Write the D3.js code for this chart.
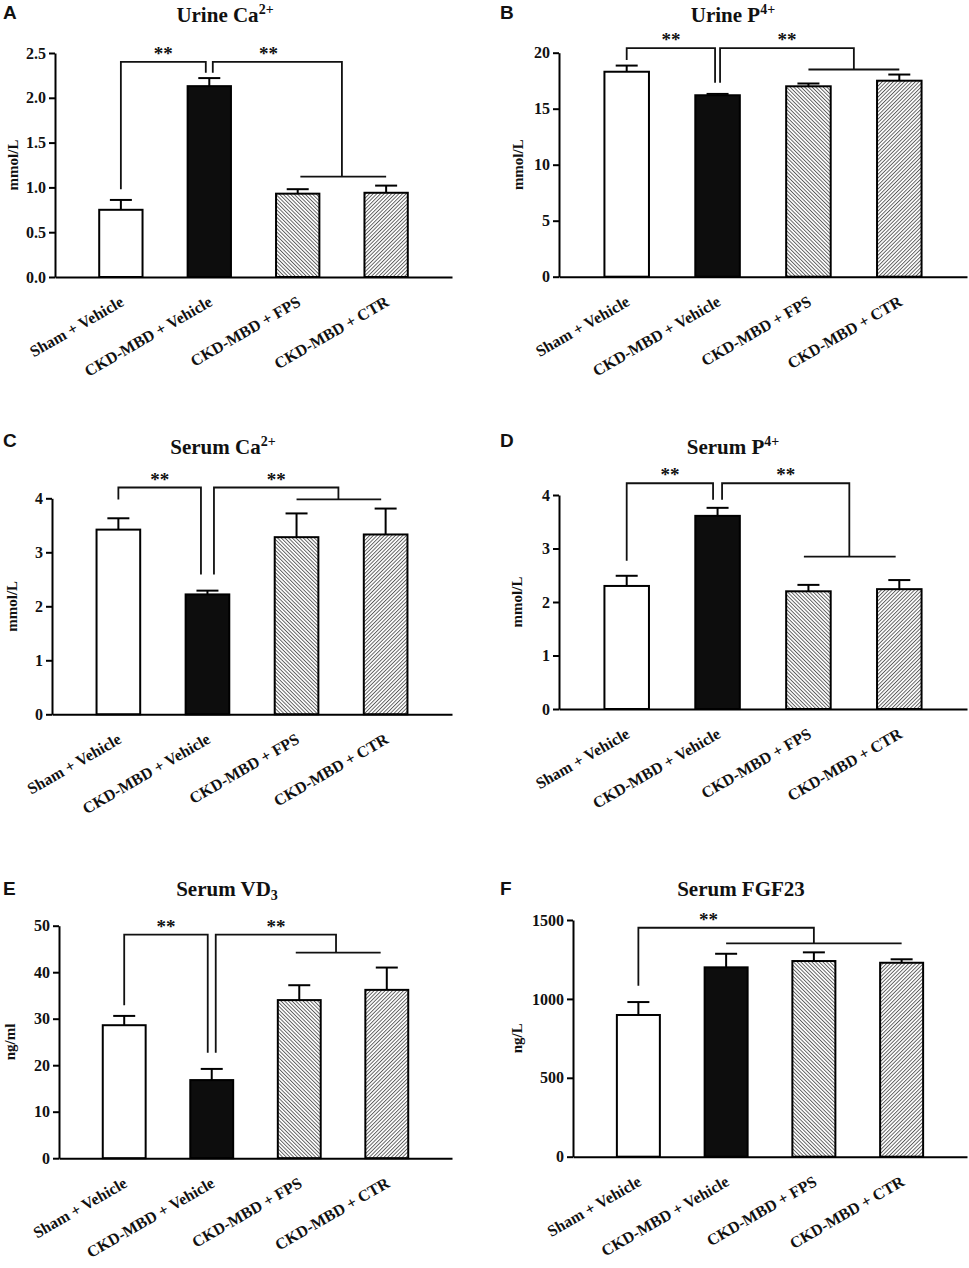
<!DOCTYPE html>
<html>
<head>
<meta charset="utf-8">
<script src="https://cdn.jsdelivr.net/npm/d3@7"></script>
<style>
  body { margin: 0; background: #fff; }
  text { font-family: "Liberation Serif", "Times New Roman", serif; font-weight: bold; fill: #111; }
  .letter { font-family: "Liberation Sans", Arial, sans-serif; }
</style>
</head>
<body>
<script>
// groups on the x axis
const groups = ["Sham + Vehicle", "CKD-MBD + Vehicle", "CKD-MBD + FPS", "CKD-MBD + CTR"];

// means and upper error (SEM)
const urineCaMean = [0.75, 2.13, 0.93, 0.94];
const urineCaSem = [0.11, 0.09, 0.05, 0.08];
const urineCaTicks = [0, 0.5, 1.0, 1.5, 2.0, 2.5];

const urinePMean = [18.3, 16.2, 17.0, 17.5];
const urinePSem = [0.55, 0.12, 0.25, 0.55];
const urinePTicks = [0, 5, 10, 15, 20];

const serumCaMean = [3.42, 2.22, 3.28, 3.33];
const serumCaSem = [0.21, 0.07, 0.44, 0.48];
const serumCaTicks = [0, 1, 2, 3, 4];

const serumPMean = [2.30, 3.61, 2.20, 2.24];
const serumPSem = [0.19, 0.15, 0.12, 0.17];
const serumPTicks = [0, 1, 2, 3, 4];

const serumVDMean = [28.6, 16.8, 34.0, 36.2];
const serumVDSem = [2.0, 2.4, 3.2, 4.8];
const serumVDTicks = [0, 10, 20, 30, 40, 50];

const serumFgfMean = [898, 1200, 1240, 1229];
const serumFgfSem = [82, 86, 55, 22];
const serumFgfTicks = [0, 500, 1000, 1500];

// significance brackets, in group index and data units
const urineCaBrackets = [
  {from: 0, fromBottom: 0.98, to: 1, toBottom: 2.28, top: 2.40, label: "**"},
  {from: 1, fromBottom: 2.28, to: 2.5, toBottom: 1.12, top: 2.40, spanFrom: 2.03, spanTo: 3, label: "**", starAt: 1.67}
];
const urinePBrackets = [
  {from: 0, fromBottom: 19.35, to: 1, toBottom: 17.32, top: 20.4, label: "**"},
  {from: 1, fromBottom: 17.32, to: 2.5, toBottom: 18.5, top: 20.4, spanFrom: 2, spanTo: 3, label: "**"}
];
const serumCaBrackets = [
  {from: 0, fromBottom: 3.98, to: 1, toBottom: 2.59, top: 4.20, label: "**"},
  {from: 1, fromBottom: 2.59, to: 2.47, toBottom: 3.98, top: 4.20, spanFrom: 2, spanTo: 2.95, label: "**"}
];
const serumPBrackets = [
  {from: 0, fromBottom: 2.77, to: 1, toBottom: 3.91, top: 4.22, label: "**"},
  {from: 1, fromBottom: 3.91, to: 2.45, toBottom: 2.85, top: 4.22, spanFrom: 1.95, spanTo: 2.96, label: "**"}
];
const serumVDBrackets = [
  {from: 0, fromBottom: 32.9, to: 1, toBottom: 22.7, top: 48.1, label: "**"},
  {from: 1, fromBottom: 22.7, to: 2.42, toBottom: 44.2, top: 48.1, spanFrom: 1.96, spanTo: 2.93, label: "**"}
];
const serumFgfBrackets = [
  {from: 0, fromBottom: 1084, to: 2, toBottom: 1352, top: 1451, spanFrom: 1, spanTo: 3, label: "**", starAt: 0.8}
];

const W = 969, H = 1268;
const svg = d3.select("body").append("svg").attr("width", W).attr("height", H);

const defs = svg.append("defs");
function hatch(id, angle) {
  const p = defs.append("pattern")
    .attr("id", id)
    .attr("patternUnits", "userSpaceOnUse")
    .attr("width", 2.6).attr("height", 2.6)
    .attr("patternTransform", `rotate(${angle})`);
  p.append("rect").attr("width", 2.6).attr("height", 2.6).attr("fill", "#fff");
  p.append("line").attr("x1", 0.5).attr("x2", 0.5).attr("y1", 0).attr("y2", 2.6)
    .attr("stroke", "#4a4a4a").attr("stroke-width", 0.85);
}
hatch("hatchBack", -45);
hatch("hatchFwd", 45);
const fills = ["#fff", "#0d0d0d", "url(#hatchBack)", "url(#hatchFwd)"];

const panels = [
  {letter: "A", title: [["Urine Ca", 0], ["2+", 1]], unit: "mmol/L", mean: urineCaMean, sem: urineCaSem,
   ticks: urineCaTicks, fmt: d3.format(".1f"), brackets: urineCaBrackets,
   x0: 55, x1: 452, y0: 53, y1: 277, titleX: 225, titleY: 21.5, letterX: 3, letterY: 19, unitX: 13, gap: 7},
  {letter: "B", title: [["Urine P", 0], ["4+", 1]], unit: "mmol/L", mean: urinePMean, sem: urinePSem,
   ticks: urinePTicks, fmt: d3.format("d"), brackets: urinePBrackets,
   x0: 559, x1: 967, y0: 52.7, y1: 276.7, titleX: 733, titleY: 21.5, letterX: 500, letterY: 19, unitX: 518, gap: 5},
  {letter: "C", title: [["Serum Ca", 0], ["2+", 1]], unit: "mmol/L", mean: serumCaMean, sem: serumCaSem,
   ticks: serumCaTicks, fmt: d3.format("d"), brackets: serumCaBrackets,
   x0: 52, x1: 452, y0: 498.3, y1: 714.3, titleX: 223, titleY: 454, letterX: 3, letterY: 447, unitX: 12, gap: 13},
  {letter: "D", title: [["Serum P", 0], ["4+", 1]], unit: "mmol/L", mean: serumPMean, sem: serumPSem,
   ticks: serumPTicks, fmt: d3.format("d"), brackets: serumPBrackets,
   x0: 559, x1: 967, y0: 495, y1: 709, titleX: 733, titleY: 453.5, letterX: 500, letterY: 447, unitX: 517, gap: 9},
  {letter: "E", title: [["Serum VD", 0], ["3", -1]], unit: "ng/ml", mean: serumVDMean, sem: serumVDSem,
   ticks: serumVDTicks, fmt: d3.format("d"), brackets: serumVDBrackets,
   x0: 59, x1: 452, y0: 925.7, y1: 1158.2, titleX: 227, titleY: 895.5, letterX: 3, letterY: 895, unitX: 10, gap: 8},
  {letter: "F", title: [["Serum FGF23", 0]], unit: "ng/L", mean: serumFgfMean, sem: serumFgfSem,
   ticks: serumFgfTicks, fmt: d3.format("d"), brackets: serumFgfBrackets,
   x0: 573, x1: 967, y0: 920, y1: 1156.7, titleX: 741, titleY: 895.5, letterX: 500, letterY: 895, unitX: 517, gap: 0}
];

panels.forEach(drawPanel);

function drawPanel(p) {
  const g = svg.append("g");
  const ymax = d3.max(p.ticks);

  const x = d3.scaleBand().domain(groups).range([p.x0, p.x1])
    .paddingInner(0.51).paddingOuter(0.5);
  const y = d3.scaleLinear().domain([0, ymax]).range([p.y1, p.y0]);
  const cx = i => x(groups[0]) + x.bandwidth() / 2 + i * x.step();

  // panel letter and title
  g.append("text").attr("class", "letter")
    .attr("x", p.letterX).attr("y", p.letterY)
    .style("font-size", "19px").text(p.letter);

  const t = g.append("text").attr("x", p.titleX).attr("y", p.titleY)
    .attr("text-anchor", "middle").style("font-size", "21px");
  p.title.forEach(([s, pos]) => {
    const ts = t.append("tspan").text(s);
    if (pos === 1) ts.attr("dy", "-0.55em").style("font-size", "14px");
    if (pos === -1) ts.attr("dy", "0.3em").style("font-size", "14px");
  });

  // y unit
  g.append("text")
    .attr("transform", `translate(${p.unitX}, ${(p.y0 + p.y1) / 2}) rotate(-90)`)
    .attr("text-anchor", "middle").attr("dy", "0.35em")
    .style("font-size", "15px").text(p.unit);

  // bars
  g.selectAll(".bar").data(p.mean).enter().append("rect")
    .attr("class", "bar")
    .attr("x", (d, i) => x(groups[i]))
    .attr("width", x.bandwidth())
    .attr("y", d => y(d))
    .attr("height", d => p.y1 - y(d))
    .attr("fill", (d, i) => fills[i])
    .attr("stroke", "#000")
    .attr("stroke-width", 2);

  // error bars (upper only)
  const eb = g.selectAll(".err").data(p.mean).enter().append("g").attr("class", "err")
    .attr("stroke", "#000").attr("stroke-width", 2);
  eb.append("line")
    .attr("x1", (d, i) => cx(i)).attr("x2", (d, i) => cx(i))
    .attr("y1", d => y(d)).attr("y2", (d, i) => y(d + p.sem[i]));
  eb.append("line")
    .attr("x1", (d, i) => cx(i) - 11).attr("x2", (d, i) => cx(i) + 11)
    .attr("y1", (d, i) => y(d + p.sem[i])).attr("y2", (d, i) => y(d + p.sem[i]));

  // axes
  const ay = g.append("g").attr("transform", `translate(${p.x0},0)`)
    .call(d3.axisLeft(y).tickValues(p.ticks).tickFormat(p.fmt)
      .tickSizeInner(6).tickSizeOuter(0).tickPadding(3));
  ay.selectAll("path, line").attr("stroke", "#000").attr("stroke-width", 2);
  ay.selectAll("text").style("font-size", "16px")
    .style("font-family", "'Liberation Serif', serif").style("font-weight", "bold").attr("fill", "#111");

  const ax = g.append("g").attr("transform", `translate(0,${p.y1})`)
    .call(d3.axisBottom(x).tickSizeInner(0).tickSizeOuter(0));
  ax.select(".domain").attr("stroke", "#000").attr("stroke-width", 2);
  ax.selectAll("text")
    .attr("y", 0).attr("dy", 0)
    .attr("text-anchor", "end")
    .attr("transform", "translate(4,28) rotate(-30)")
    .style("font-size", "16px")
    .style("font-family", "'Liberation Serif', serif").style("font-weight", "bold").attr("fill", "#111");

  // significance brackets
  const shared = p.brackets.length > 1 ? p.brackets[1].from : null;
  p.brackets.forEach((b, k) => {
    const dxL = (k > 0 && b.from === shared) ? p.gap / 2 : 0;
    const dxR = (k === 0 && b.to === shared) ? -p.gap / 2 : 0;
    const xl = cx(b.from) + dxL, xr = cx(b.to) + dxR;
    g.append("path")
      .attr("d", `M${xl},${y(b.fromBottom)}V${y(b.top)}H${xr}V${y(b.toBottom)}`)
      .attr("fill", "none").attr("stroke", "#111").attr("stroke-width", 1.8);
    if (b.spanFrom !== undefined) {
      g.append("line")
        .attr("x1", cx(b.spanFrom)).attr("x2", cx(b.spanTo))
        .attr("y1", y(b.toBottom)).attr("y2", y(b.toBottom))
        .attr("stroke", "#111").attr("stroke-width", 1.8);
    }
    const sx = b.starAt !== undefined ? cx(b.starAt) : (xl + xr) / 2;
    g.append("text").attr("x", sx).attr("y", y(b.top) - 2)
      .attr("text-anchor", "middle").style("font-size", "19px").text(b.label);
  });
}
</script>
</body>
</html>
